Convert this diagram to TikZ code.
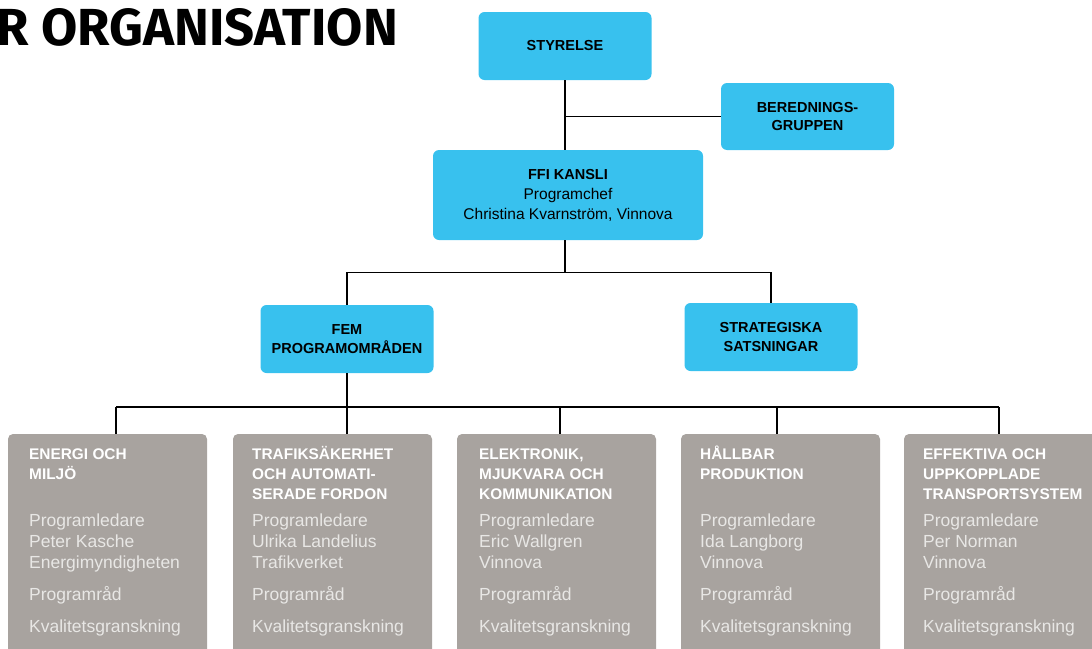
\documentclass[tikz,border=0pt]{standalone}
\usepackage{fontspec}
\setmainfont{Liberation Sans}
\newfontfamily\titlefont{Fira Sans}
\usepackage{graphicx}
\definecolor{ffiblue}{HTML}{38C1EE}
\definecolor{ffigray}{HTML}{A8A39F}
\definecolor{ffitext}{HTML}{E8E7E5}
\tikzset{
  bluebox/.style={rectangle, rounded corners=6pt, fill=ffiblue, inner sep=0pt,
    align=center, text=black, font=\fontsize{14.5}{18.4}\selectfont\bfseries},
  graybox/.style={rectangle, rounded corners=5pt, fill=ffigray, inner sep=0pt,
    minimum width=199pt, minimum height=266pt},
  ghead/.style={anchor=base west, inner sep=0pt, text=white,
    font=\fontsize{15.4}{20}\selectfont\bfseries},
  gbody/.style={anchor=base west, inner sep=0pt, text=ffitext,
    font=\fontsize{17.5}{21}\selectfont},
  conn/.style={draw=black, line width=1.4pt},
}
% #1 name, #2 box centre x, #3 text x, #4 heading lines, #5 person, #6 organisation, #7 connector x
\newcommand\progbox[7]{%
  \node[graybox] (#1) at (#2,567) {};
  \foreach \t [count=\i] in {#4} \node[ghead] (#1h\i) at (#3,439.5+20*\i) {\t};
  \node[gbody] (#1pl) at (#3,526) {Programledare};
  \node[gbody] (#1pn) at (#3,547) {#5};
  \node[gbody] (#1po) at (#3,568) {#6};
  \node[gbody] (#1pr) at (#3,600) {Programråd};
  \node[gbody] (#1kg) at (#3,632) {Kvalitetsgranskning};
  \coordinate (#1bus) at (#7,407);
  \draw[conn] (#1bus) -- (#1bus |- #1.north);
}
\begin{document}
\begin{tikzpicture}[x=1pt,y=-1pt]
\useasboundingbox (0,0) rectangle (1092,648);
\clip (0,0) rectangle (1092,648);

\node[anchor=base east, inner sep=0pt] (title) at (398,45)
  {\resizebox{401pt}{37pt}{\titlefont\bfseries R ORGANISATION}};

\node[bluebox, minimum width=173pt, minimum height=68pt] (styrelse) at (565,46) {STYRELSE};
\node[bluebox, minimum width=173pt, minimum height=67pt] (bered) at (807.5,116.5) {BEREDNINGS-\\GRUPPEN};
\node[bluebox, minimum width=270pt, minimum height=90pt, font=\fontsize{15.5}{20}\selectfont] (ffi) at (568,195)
  {{\fontsize{14.5}{20}\selectfont\bfseries FFI KANSLI}\\Programchef\\Christina Kvarnström, Vinnova};
\node[bluebox, minimum width=173pt, minimum height=68pt] (fem) at (347,339) {FEM\\PROGRAMOMRÅDEN};
\node[bluebox, minimum width=173pt, minimum height=68pt] (strat) at (771,337) {STRATEGISKA\\SATSNINGAR};

\draw[conn] (styrelse.south) -- (styrelse.south |- ffi.north);
\draw[conn] (bered.west) -- (bered.west -| styrelse.south);
\coordinate (split) at (565,272.5);
\draw[conn] (ffi.south -| styrelse.south) -- (split);
\draw[conn] (fem.north) |- (split) -| (strat.north);

\progbox{g1}{107.5}{29}{ENERGI OCH, MILJÖ}{Peter Kasche}{Energimyndigheten}{116}
\progbox{g2}{332.5}{252}{TRAFIKSÄKERHET, OCH AUTOMATI-, SERADE FORDON}{Ulrika Landelius}{Trafikverket}{347}
\progbox{g3}{556.5}{479}{{ELEKTRONIK,}, MJUKVARA OCH, KOMMUNIKATION}{Eric Wallgren}{Vinnova}{560}
\progbox{g4}{780.5}{700}{HÅLLBAR, PRODUKTION}{Ida Langborg}{Vinnova}{777}
\progbox{g5}{1003.5}{923}{EFFEKTIVA OCH, UPPKOPPLADE, TRANSPORTSYSTEM}{Per Norman}{Vinnova}{999}

\draw[conn] (g1bus) -- (g5bus);
\draw[conn] (fem.south) -- (fem.south |- g2bus);
\end{tikzpicture}
\end{document}
